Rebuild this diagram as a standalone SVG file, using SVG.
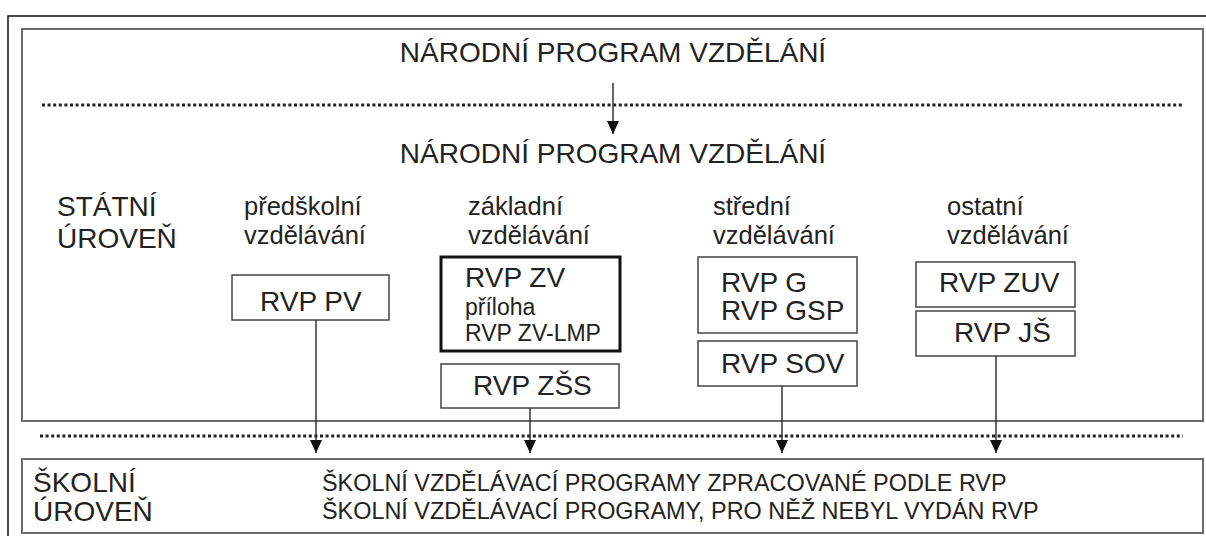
<svg xmlns="http://www.w3.org/2000/svg" width="1206" height="536" viewBox="0 0 1206 536">
<defs>
<style>
text{font-family:"Liberation Sans",Arial,sans-serif;fill:#222}
.t28{font-size:28px}
.t26{font-size:25.5px}
.t23{font-size:23px}
.tb{font-size:23.4px}
.box{fill:#fff;stroke:#444;stroke-width:1.5}
.big{fill:#fff;stroke:#6a6a6a;stroke-width:2}
.dot{stroke:#222;stroke-width:3;stroke-dasharray:3 2.6;fill:none}
.con{stroke:#333;stroke-width:1.5;fill:none;marker-end:url(#ah)}
</style>
<marker id="ah" viewBox="0 0 13 12" markerWidth="13" markerHeight="12" refX="13" refY="6" orient="auto" markerUnits="userSpaceOnUse">
<path d="M0,0 L13,6 L0,12 Z" fill="#111"/>
</marker>
</defs>
<rect x="0" y="0" width="1206" height="536" fill="#fff"/>
<rect x="8" y="16" width="1220" height="540" fill="none" stroke="#111" stroke-width="1.5"/>
<g id="state-level">
<rect class="big" x="22" y="29" width="1181" height="392"/>
<text class="t28" x="613" y="62" text-anchor="middle">NÁRODNÍ PROGRAM VZDĚLÁNÍ</text>
<text class="t28" x="613" y="163" text-anchor="middle">NÁRODNÍ PROGRAM VZDĚLÁNÍ</text>
<text class="t28" x="57" y="216">STÁTNÍ</text>
<text class="t28" x="57" y="248">ÚROVEŇ</text>
</g>
<g id="dividers">
<line class="dot" x1="42" y1="105" x2="1183" y2="105"/>
<line class="dot" x1="40" y1="436" x2="1183" y2="436"/>
</g>
<g id="col-pv">
<text class="t26" x="244" y="215">předškolní</text>
<text class="t26" x="244" y="244">vzdělávání</text>
</g>
<g id="col-zv">
<text class="t26" x="468" y="215">základní</text>
<text class="t26" x="468" y="244">vzdělávání</text>
</g>
<g id="col-sv">
<text class="t26" x="713" y="215">střední</text>
<text class="t26" x="713" y="244">vzdělávání</text>
</g>
<g id="col-ov">
<text class="t26" x="947" y="215">ostatní</text>
<text class="t26" x="947" y="244">vzdělávání</text>
</g>
<g id="rvp-pv">
<rect class="box" x="232" y="275" width="157" height="45"/>
<text class="t28" x="260" y="311">RVP PV</text>
</g>
<g id="rvp-zv">
<rect x="441" y="257" width="179" height="94" fill="#fff" stroke="#111" stroke-width="3"/>
<text class="t28" x="465" y="287">RVP ZV</text>
<text class="t23" x="465" y="315">příloha</text>
<text class="t23" x="465" y="341">RVP ZV-LMP</text>
</g>
<g id="rvp-zss">
<rect class="box" x="441" y="364" width="178" height="44"/>
<text class="t28" x="473" y="395">RVP ZŠS</text>
</g>
<g id="rvp-g">
<rect class="box" x="698" y="257" width="159" height="76"/>
<text class="t28" x="721" y="292">RVP G</text>
<text class="t28" x="721" y="320">RVP GSP</text>
</g>
<g id="rvp-sov">
<rect class="box" x="698" y="341" width="159" height="45"/>
<text class="t28" x="721" y="373">RVP SOV</text>
</g>
<g id="rvp-zuv">
<rect class="box" x="916" y="262" width="159" height="45"/>
<text class="t28" x="939" y="292">RVP ZUV</text>
</g>
<g id="rvp-js">
<rect class="box" x="916" y="311" width="159" height="45"/>
<text class="t28" x="954" y="342">RVP JŠ</text>
</g>
<g id="school-level">
<rect class="big" x="22" y="459" width="1181" height="74"/>
<text class="t28" x="33" y="492">ŠKOLNÍ</text>
<text class="t28" x="33" y="521">ÚROVEŇ</text>
<text class="tb" x="322" y="491">ŠKOLNÍ VZDĚLÁVACÍ PROGRAMY ZPRACOVANÉ PODLE RVP</text>
<text class="tb" x="322" y="519">ŠKOLNÍ VZDĚLÁVACÍ PROGRAMY, PRO NĚŽ NEBYL VYDÁN RVP</text>
</g>
<g id="connectors">
<line class="con" x1="613" y1="83" x2="613" y2="134"/>
<line class="con" x1="316" y1="320" x2="316" y2="453"/>
<line class="con" x1="530" y1="408" x2="530" y2="453"/>
<line class="con" x1="782" y1="386" x2="782" y2="453"/>
<line class="con" x1="996" y1="356" x2="996" y2="453"/>
</g>
</svg>
